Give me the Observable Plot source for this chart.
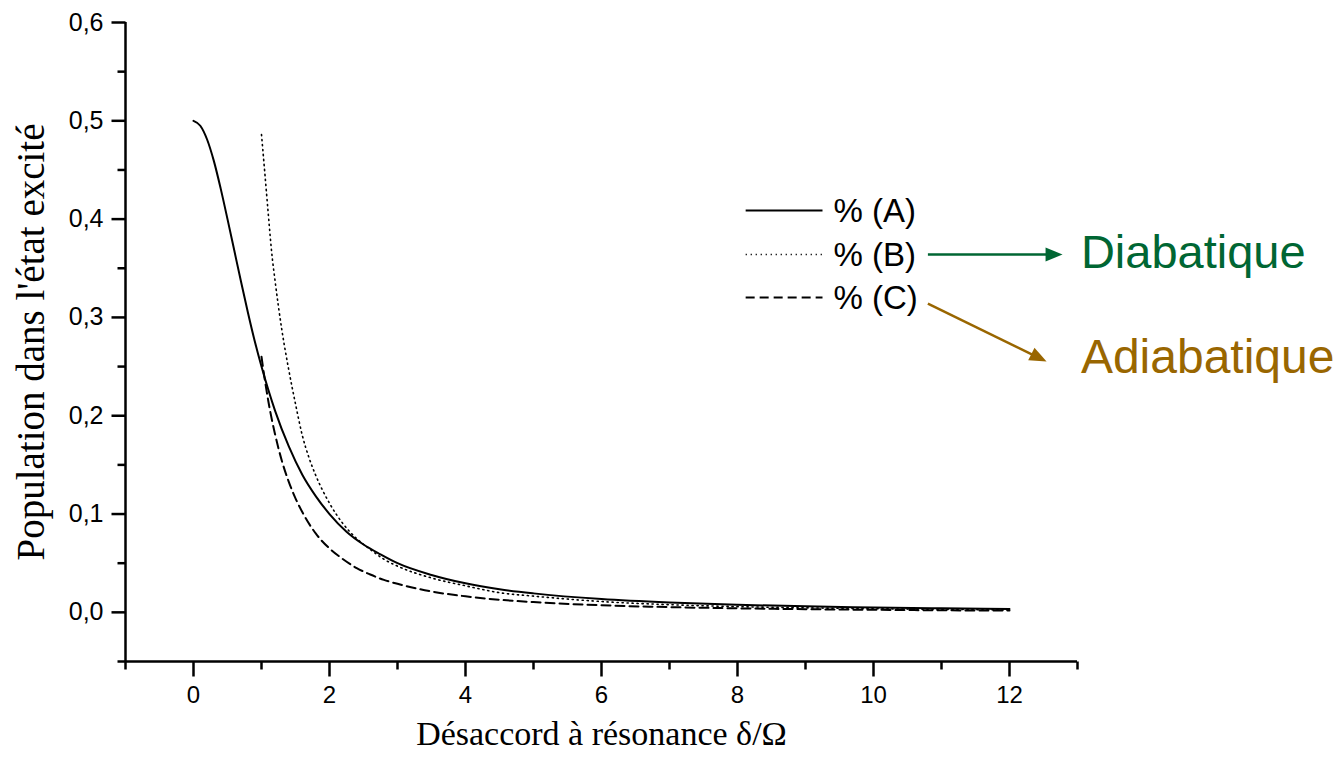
<!DOCTYPE html>
<html>
<head>
<meta charset="utf-8">
<script src="https://cdn.jsdelivr.net/npm/d3@7"></script>
<script src="https://cdn.jsdelivr.net/npm/@observablehq/plot@0.6"></script>
<style>
  html, body { margin: 0; padding: 0; background: #fff; }
  #chart { width: 1343px; height: 764px; }
</style>
</head>
<body>
<div id="chart"></div>
<script>
// ---- Data ----
const xA = [0, 0.1, 0.2, 0.3, 0.4, 0.5, 0.6, 0.7, 0.8, 0.9, 1.0, 1.2, 1.4, 1.6, 1.8, 2.0, 2.25, 2.5, 2.75, 3.0, 3.5, 4, 4.5, 5, 6, 7, 8, 9, 10, 11, 12];
const yA = [0.500, 0.495, 0.481, 0.459, 0.431, 0.400, 0.368, 0.336, 0.305, 0.276, 0.250, 0.205, 0.169, 0.140, 0.118, 0.100, 0.082, 0.069, 0.059, 0.050, 0.038, 0.0295, 0.0235, 0.0193, 0.0135, 0.0100, 0.0077, 0.0061, 0.0050, 0.0041, 0.0035];

const xB = [1.0, 1.05, 1.1, 1.15, 1.2, 1.3, 1.4, 1.5, 1.6, 1.7, 1.8, 2.0, 2.2, 2.4, 2.6, 2.8, 3.0, 3.5, 4, 4.5, 5, 6, 7, 8, 9, 10, 11, 12];
const yB = [0.486, 0.446, 0.405, 0.366, 0.337, 0.287, 0.247, 0.212, 0.180, 0.157, 0.139, 0.111, 0.090, 0.075, 0.064, 0.054, 0.047, 0.035, 0.027, 0.020, 0.0165, 0.011, 0.0078, 0.0058, 0.0046, 0.0037, 0.0030, 0.0025];

const xC = [1.0, 1.05, 1.1, 1.2, 1.3, 1.4, 1.5, 1.6, 1.8, 2.0, 2.2, 2.4, 2.6, 2.8, 3.0, 3.5, 4, 4.5, 5, 6, 7, 8, 9, 10, 11, 12];
const yC = [0.260, 0.236, 0.215, 0.181, 0.154, 0.133, 0.116, 0.102, 0.080, 0.065, 0.054, 0.045, 0.0385, 0.033, 0.029, 0.0212, 0.0163, 0.0128, 0.0104, 0.0072, 0.0053, 0.0041, 0.0032, 0.0026, 0.0021, 0.0018];

const seriesNames = ["A", "B", "C"];
const legendLabels = ["% (A)", "% (B)", "% (C)"];
const xMajorTicks = [0, 2, 4, 6, 8, 10, 12];
const xMinorTicks = [-1, 1, 3, 5, 7, 9, 11, 13];
const yMajorTicks = [0, 0.1, 0.2, 0.3, 0.4, 0.5, 0.6];
const yMinorTicks = [-0.05, 0.05, 0.15, 0.25, 0.35, 0.45, 0.55];
const xTitle = "Désaccord à résonance δ/Ω";
const yTitle = "Population dans l'état excité";
const annotationLabels = ["Diabatique", "Adiabatique"];

// ---- Build table ----
const rows = [
  ...xA.map((x, i) => ({series: "A", x, y: yA[i]})),
  ...xB.map((x, i) => ({series: "B", x, y: yB[i]})),
  ...xC.map((x, i) => ({series: "C", x, y: yC[i]}))
];

// ---- Styles / layout ----
const styles = {
  A: {strokeDasharray: null, strokeWidth: 2},
  B: {strokeDasharray: "1.2,3.8", strokeWidth: 1.6},
  C: {strokeDasharray: "9,5", strokeWidth: 2}
};
const xDomain = [-1, 13], yDomain = [-0.05, 0.6];
const green = "#006633", brown = "#996600";
const serif = "Liberation Serif, Times New Roman, serif";

// legend / annotation anchors (data coordinates)
const legendX1 = 8.12, legendX2 = 9.25, legendTextX = 9.41;
const legendY = [0.4088, 0.3640, 0.3203];
const arrows = [
  {x1: 10.80, y1: 0.3640, x2: 12.62, y2: 0.3640, tipX: 12.78, tipY: 0.3640, angle: 0, color: green},
  {x1: 10.80, y1: 0.3141, x2: 12.41, y2: 0.2597, tipX: 12.545, tipY: 0.2551, angle: 26.6, color: brown}
];
const annotations = [
  {x: 13.05, y: 0.3655, text: annotationLabels[0], color: green, size: 47},
  {x: 13.05, y: 0.2586, text: annotationLabels[1], color: brown, size: 48}
];

const fmt = d => d3.format(".1f")(d).replace(".", ",");
const tickSym = (dx, dy) => ({draw(ctx) { ctx.moveTo(0, 0); ctx.lineTo(dx, dy); }});
const headSym = {draw(ctx) { ctx.moveTo(0, 0); ctx.lineTo(-17, -7); ctx.lineTo(-17, 7); ctx.closePath(); }};

const marks = [];
// axis lines
marks.push(Plot.ruleY([yDomain[0]], {stroke: "black", strokeWidth: 2.5}));
marks.push(Plot.ruleX([xDomain[0]], {stroke: "black", strokeWidth: 2.5}));
// ticks
marks.push(Plot.dot(xMajorTicks, {x: d => d, y: yDomain[0], symbol: tickSym(0, 15), stroke: "black", strokeWidth: 2.5, fill: "none"}));
marks.push(Plot.dot(xMinorTicks, {x: d => d, y: yDomain[0], symbol: tickSym(0, 8), stroke: "black", strokeWidth: 2.5, fill: "none"}));
marks.push(Plot.dot(yMajorTicks, {x: xDomain[0], y: d => d, symbol: tickSym(-14, 0), stroke: "black", strokeWidth: 2.5, fill: "none"}));
marks.push(Plot.dot(yMinorTicks, {x: xDomain[0], y: d => d, symbol: tickSym(-8, 0), stroke: "black", strokeWidth: 2.5, fill: "none"}));
// tick labels
marks.push(Plot.text(xMajorTicks, {x: d => d, y: yDomain[0], text: d => String(d), dy: 34, fontSize: 24, fill: "black"}));
marks.push(Plot.text(yMajorTicks, {x: xDomain[0], y: d => d, text: fmt, dx: -22, textAnchor: "end", fontSize: 25, fill: "black"}));
// axis titles
marks.push(Plot.text([xTitle], {frameAnchor: "bottom", text: d => d, dy: 83, fontSize: 34, fontFamily: serif, fill: "black"}));
marks.push(Plot.text([yTitle], {frameAnchor: "left", text: d => d, dx: -94, rotate: -90, textAnchor: "middle", fontSize: 39, fontFamily: serif, fill: "black"}));

// curves
for (const s of seriesNames) {
  marks.push(Plot.line(rows.filter(r => r.series === s), {
    x: "x", y: "y", curve: "monotone-x", stroke: "black",
    strokeWidth: styles[s].strokeWidth, strokeDasharray: styles[s].strokeDasharray
  }));
}

// legend
seriesNames.forEach((s, i) => {
  marks.push(Plot.link([0], {x1: legendX1, x2: legendX2, y1: legendY[i], y2: legendY[i], stroke: "black",
    strokeWidth: styles[s].strokeWidth, strokeDasharray: styles[s].strokeDasharray}));
  marks.push(Plot.text([legendLabels[i]], {x: legendTextX, y: legendY[i], text: d => d, textAnchor: "start", dy: 1, fontSize: 33, fill: "black"}));
});

// annotation arrows & labels
marks.push(Plot.link(arrows, {x1: "x1", y1: "y1", x2: "x2", y2: "y2", stroke: d => d.color, strokeWidth: 2.5}));
marks.push(Plot.dot(arrows, {x: "tipX", y: "tipY", symbol: headSym, rotate: "angle", fill: d => d.color, stroke: "none"}));
for (const a of annotations) {
  marks.push(Plot.text([a], {x: "x", y: "y", text: "text", fill: a.color, textAnchor: "start", fontSize: a.size}));
}

const chart = Plot.plot({
  width: 1343,
  height: 764,
  marginLeft: 125,
  marginRight: 266,
  marginTop: 22,
  marginBottom: 103,
  x: {domain: xDomain, axis: null},
  y: {domain: yDomain, axis: null},
  style: {fontFamily: "Liberation Sans, Arial, sans-serif", background: "white", overflow: "visible"},
  marks
});
document.getElementById("chart").appendChild(chart);
</script>
</body>
</html>
